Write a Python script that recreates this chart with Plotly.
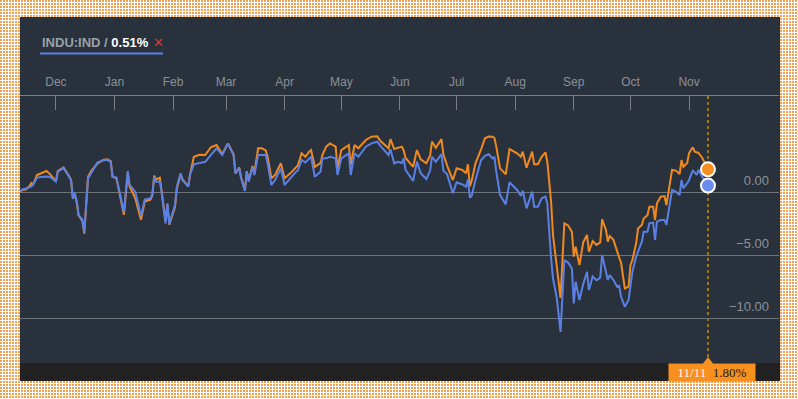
import zlib, struct, base64
import plotly.graph_objects as go

# ---------------- data ----------------
dates = [
 "2014-11-12","2014-11-13","2014-11-15","2014-11-17","2014-11-18","2014-11-19","2014-11-21","2014-11-23",
 "2014-11-26","2014-11-28","2014-12-01","2014-12-02","2014-12-03","2014-12-05","2014-12-08","2014-12-09",
 "2014-12-10","2014-12-11","2014-12-12","2014-12-13","2014-12-15","2014-12-16","2014-12-18","2014-12-20",
 "2014-12-23","2014-12-26","2014-12-28","2014-12-30","2014-12-31","2015-01-02","2015-01-06","2015-01-08",
 "2015-01-09","2015-01-12","2015-01-15","2015-01-17","2015-01-20","2015-01-21","2015-01-22","2015-01-23",
 "2015-01-25","2015-01-26","2015-01-28","2015-01-29","2015-01-30","2015-02-02","2015-02-03","2015-02-05",
 "2015-02-06","2015-02-09","2015-02-10","2015-02-12","2015-02-15","2015-02-18","2015-02-21","2015-02-24",
 "2015-02-27","2015-03-02","2015-03-05","2015-03-06","2015-03-08","2015-03-09","2015-03-11","2015-03-12",
 "2015-03-13","2015-03-15","2015-03-16","2015-03-18","2015-03-20","2015-03-22","2015-03-23","2015-03-25",
 "2015-03-27","2015-03-30","2015-04-01","2015-04-04","2015-04-07","2015-04-08","2015-04-10","2015-04-12",
 "2015-04-14","2015-04-15","2015-04-17","2015-04-20","2015-04-21","2015-04-23","2015-04-25","2015-04-28",
 "2015-04-29","2015-05-01","2015-05-05","2015-05-06","2015-05-08","2015-05-10","2015-05-14","2015-05-17",
 "2015-05-20","2015-05-22","2015-05-26","2015-05-27","2015-05-29","2015-05-31","2015-06-02","2015-06-03",
 "2015-06-04","2015-06-08","2015-06-10","2015-06-12","2015-06-15","2015-06-17","2015-06-18","2015-06-20",
 "2015-06-23","2015-06-24","2015-06-26","2015-06-29","2015-07-01","2015-07-04","2015-07-06","2015-07-07",
 "2015-07-08","2015-07-09","2015-07-11","2015-07-14","2015-07-16","2015-07-18","2015-07-20","2015-07-21",
 "2015-07-22","2015-07-24","2015-07-27","2015-07-29","2015-08-02","2015-08-04","2015-08-05","2015-08-07",
 "2015-08-10","2015-08-11","2015-08-13","2015-08-15","2015-08-17","2015-08-18","2015-08-20","2015-08-21",
 "2015-08-23","2015-08-25","2015-08-27","2015-08-29","2015-08-31","2015-09-01","2015-09-02","2015-09-04",
 "2015-09-06","2015-09-08","2015-09-09","2015-09-11","2015-09-13","2015-09-15","2015-09-16","2015-09-18",
 "2015-09-19","2015-09-20","2015-09-22","2015-09-24","2015-09-25","2015-09-26","2015-09-28","2015-09-30",
 "2015-10-01","2015-10-02","2015-10-04","2015-10-05","2015-10-07","2015-10-08","2015-10-10","2015-10-11",
 "2015-10-13","2015-10-14","2015-10-15","2015-10-17","2015-10-19","2015-10-20","2015-10-22","2015-10-23",
 "2015-10-25","2015-10-27","2015-10-28","2015-10-29","2015-10-31","2015-11-01","2015-11-02","2015-11-03",
 "2015-11-04","2015-11-05","2015-11-06","2015-11-08","2015-11-11",
]

indu = [  # INDU:IND, % change (blue)
 0.0,0.2,0.25,0.4,0.45,0.6,1.13,1.2,1.24,1.2,0.82,1.6,1.7,1.93,1.2,0.95,
 -0.55,-0.1,-0.7,-1.83,-2.2,-3.2,1.08,1.6,2.35,2.5,2.55,2.4,1.2,1.16,-1.6,1.67,
 0.56,0.03,-1.9,-0.6,-0.5,-0.24,1.2,0.82,0.82,-0.1,-2.5,-0.9,-2.56,-1.03,0.42,1.48,
 0.95,0.42,1.4,2.2,2.3,2.4,2.94,3.47,2.94,3.86,2.94,1.48,1.88,1.09,0.08,1.61,
 0.82,2.0,1.35,2.94,2.94,2.94,2.3,0.56,0.95,1.88,0.56,1.09,1.61,1.7,2.54,2.35,
 2.67,2.8,1.21,1.6,2.67,2.67,2.8,2.67,1.35,2.67,3.07,1.35,3.07,2.8,3.6,3.86,
 3.99,3.6,2.94,3.4,2.28,2.4,2.3,2.67,1.75,0.87,2.41,1.5,1.03,1.7,2.8,2.4,
 3.0,1.7,1.4,-0.1,0.77,0.6,0.42,1.0,-0.45,-0.3,0.95,2.54,2.88,3.0,2.67,2.8,
 1.61,-0.24,-0.98,0.77,0.16,-0.3,0.1,-1.3,0.03,-1.16,-1.16,-0.5,-0.37,-0.9,-5.26,-6.85,
 -8.4,-11.1,-5.4,-5.6,-6.06,-8.84,-7.12,-8.57,-7.3,-6.33,-7.78,-6.7,-7.0,-6.8,-5.0,-6.2,
 -6.98,-6.6,-6.98,-7.51,-7.45,-8.3,-9.1,-8.57,-7.4,-6.33,-5.13,-4.7,-3.94,-3.15,-3.15,-2.49,
 -2.43,-3.81,-2.36,-2.22,-2.22,-2.6,-0.63,0.16,0.03,-0.24,0.95,0.3,0.7,0.95,1.35,1.69,
 1.55,1.35,1.75,1.2,0.51,
]

comp = [  # comparison series, % change (orange)
 0.0,0.15,0.2,0.45,0.7,0.6,1.35,1.5,1.67,1.4,0.85,1.65,1.75,1.95,1.25,0.95,
 -0.5,-0.2,-0.8,-1.85,-2.3,-3.3,1.2,1.75,2.25,2.55,2.6,2.45,1.2,1.1,-1.8,1.5,
 0.45,-0.5,-2.2,-0.75,-0.6,-0.3,1.3,1.0,1.13,-0.1,-2.3,-1.0,-2.6,-1.2,0.3,1.4,
 1.0,0.45,1.4,2.8,2.95,2.94,3.55,3.73,3.0,3.86,3.0,1.48,1.95,1.15,0.15,1.65,
 0.9,2.06,1.5,3.47,3.47,3.3,2.8,1.09,1.35,2.28,1.09,1.48,2.0,2.1,3.07,2.8,
 3.2,3.33,2.0,2.3,2.94,3.6,3.86,3.6,1.88,3.33,3.73,2.15,3.73,3.47,4.13,4.39,
 4.42,4.0,3.47,4.2,3.41,3.5,3.6,3.3,2.7,2.0,3.33,2.6,2.28,2.9,4.0,3.5,
 4.2,3.0,2.1,0.95,1.88,1.75,1.48,2.2,0.45,0.9,2.28,3.41,4.26,4.4,4.39,4.3,
 3.6,1.88,1.4,3.41,3.07,2.8,3.2,1.93,3.2,2.2,2.2,2.8,3.15,2.4,-0.77,-3.4,
 -5.8,-8.4,-2.49,-2.65,-3.15,-5.13,-4.34,-5.8,-4.0,-3.41,-4.74,-3.9,-4.2,-4.0,-2.17,-3.0,
 -3.94,-3.5,-3.8,-4.87,-5.2,-5.6,-7.65,-7.5,-5.8,-5.4,-4.07,-2.9,-2.62,-2.1,-1.85,-1.16,
 -1.16,-2.22,-0.9,-0.37,-0.32,-1.03,0.95,1.75,1.7,1.43,2.54,2.0,2.3,3.07,3.33,3.55,
 3.2,3.15,3.1,2.7,1.80,
]

series_name = "INDU:IND"
month_ticks = ["2014-12-01","2015-01-01","2015-02-01","2015-03-01","2015-04-01","2015-05-01",
               "2015-06-01","2015-07-01","2015-08-01","2015-09-01","2015-10-01","2015-11-01"]
month_labels = ["Dec","Jan","Feb","Mar","Apr","May","Jun","Jul","Aug","Sep","Oct","Nov"]
x_range = ["2014-11-12", "2015-12-18 14:00"]
y_range = [-13.57, 7.62]
y_ticks = [0, -5, -10]

BLUE = "#5b80e3"
ORANGE = "#f0891f"
PANEL = "#29323c"
STRIP = "#222222"
GRID = "#6f747a"
TXT = "#8b9097"

# ---------------- background pattern (orange dots) ----------------
W, H = 798, 399
def make_png(w, h):
    dot = bytes((244, 160, 80))
    wht = bytes((255, 255, 255))
    row_dots = b"".join(dot if (x % 3) < 2 else wht for x in range(w))
    row_white = wht * w
    raw = b"".join(b"\x00" + (row_dots if (y % 3) < 2 else row_white) for y in range(h))
    def chunk(t, d):
        c = struct.pack(">I", len(d)) + t + d
        return c + struct.pack(">I", zlib.crc32(t + d) & 0xffffffff)
    return (b"\x89PNG\r\n\x1a\n" + chunk(b"IHDR", struct.pack(">IIBBBBB", w, h, 8, 2, 0, 0, 0))
            + chunk(b"IDAT", zlib.compress(raw, 9)) + chunk(b"IEND", b""))
bg_uri = "data:image/png;base64," + base64.b64encode(make_png(W, H)).decode()

ML, MR, MT, MB = 20, 19, 96, 36
PW, PH = W - ML - MR, H - MT - MB
def px(xp):  # figure pixel x -> paper
    return (xp - ML) / PW
def py(yp):  # figure pixel y -> paper
    return (H - MB - yp) / PH

fig = go.Figure()
fig.add_trace(go.Scatter(x=dates, y=comp, mode="lines", line=dict(color=ORANGE, width=2),
                         hoverinfo="skip", showlegend=False))
fig.add_trace(go.Scatter(x=dates, y=indu, mode="lines", line=dict(color=BLUE, width=2),
                         hoverinfo="skip", showlegend=False))
fig.add_trace(go.Scatter(x=[dates[-1]], y=[comp[-1]], mode="markers",
                         marker=dict(size=14, color="#f7901e", line=dict(color="white", width=2)),
                         showlegend=False, hoverinfo="skip", cliponaxis=False))
fig.add_trace(go.Scatter(x=[dates[-1]], y=[indu[-1]], mode="markers",
                         marker=dict(size=14, color="#6b8df0", line=dict(color="white", width=2)),
                         showlegend=False, hoverinfo="skip", cliponaxis=False))
# tab pointer
fig.add_trace(go.Scatter(x=[dates[-1]], y=[y_range[0]], mode="markers",
                         marker=dict(symbol="triangle-up", size=12, color="#f7901e", line=dict(width=0)),
                         showlegend=False, hoverinfo="skip", cliponaxis=False))

fig.update_layout(
    width=W, height=H,
    margin=dict(l=ML, r=MR, t=MT, b=MB, pad=0),
    paper_bgcolor="white", plot_bgcolor=PANEL,
    font=dict(family="Liberation Sans, Arial, sans-serif", color=TXT),
    images=[dict(source=bg_uri, xref="paper", yref="paper", x=px(0), y=py(0),
                 sizex=W / PW, sizey=H / PH, xanchor="left", yanchor="top",
                 sizing="stretch", layer="below")],
    shapes=[
        dict(type="rect", xref="paper", yref="paper", x0=px(20), x1=px(780), y0=py(381), y1=py(17),
             fillcolor=PANEL, line=dict(width=0), layer="below"),
        dict(type="rect", xref="paper", yref="paper", x0=px(20), x1=px(780), y0=py(381), y1=py(363),
             fillcolor=STRIP, line=dict(width=0), layer="below"),
        dict(type="line", xref="paper", yref="paper", x0=px(40), x1=px(163), y0=py(53.5), y1=py(53.5),
             line=dict(color="#5b7fe6", width=2)),
        dict(type="line", xref="x", yref="paper", x0=dates[-1], x1=dates[-1], y0=0, y1=1,
             line=dict(color="#9c7622", width=2, dash="dot"), layer="below"),
    ],
    xaxis=dict(
        type="date", range=x_range, side="top",
        tickvals=[x_range[0]] + month_ticks + [x_range[1]],
        ticktext=[""] + month_labels + [""],
        ticks="inside", ticklen=14, tickcolor="#7a7e84", tickwidth=1,
        showline=True, linecolor="#7a7e84", linewidth=1,
        showgrid=False, zeroline=False,
        tickfont=dict(size=12, color=TXT, family="Liberation Sans, Arial, sans-serif"),
        ticklabelstandoff=4,
        fixedrange=True,
    ),
    yaxis=dict(
        range=y_range, side="right", tickvals=y_ticks, tickformat=".2f",
        ticklabelposition="inside", ticks="", ticklabelstandoff=7, ticklabelshift=-12,
        showgrid=True, gridcolor=GRID, gridwidth=1, zeroline=False, showline=False,
        tickfont=dict(size=13, color=TXT, family="Liberation Sans, Arial, sans-serif"),
        fixedrange=True,
    ),
    annotations=[
        dict(xref="paper", yref="paper", x=px(40), y=py(43), xanchor="left", yanchor="middle",
             showarrow=False,
             text=f"<b><span style='color:#9ba0a7'>{series_name} / </span>"
                  f"<span style='color:#ffffff'>{indu[-1]:.2f}%</span></b>",
             font=dict(size=13, family="Liberation Sans, Arial, sans-serif")),
        dict(xref="paper", yref="paper", x=px(158), y=py(43), xanchor="center", yanchor="middle",
             showarrow=False, text="✕", font=dict(size=13, color="#e0342f")),
        dict(xref="x", yref="paper", x=dates[-1], xshift=4, y=py(372.5), xanchor="center", yanchor="middle",
             showarrow=False, width=86, height=17, bgcolor="#f7901e", borderpad=0,
             text=f"<span style='color:#fff6e8'>{dates[-1][5:7]}/{dates[-1][8:10]}</span>&nbsp;&nbsp;"
                  f"<span style='color:#1c1c1c'>{comp[-1]:.2f}%</span>",
             font=dict(size=13, family="Liberation Serif, Times New Roman, serif")),
    ],
)

fig.write_html("out.html", config={"displayModeBar": False},
               post_script="document.body.style.margin='0';")
